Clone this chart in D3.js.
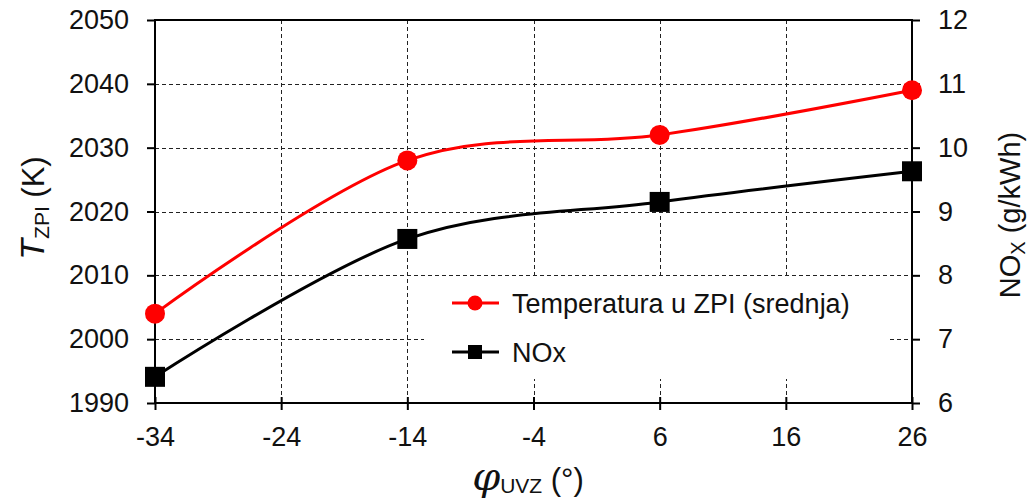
<!DOCTYPE html>
<html><head><meta charset="utf-8">
<script src="https://cdn.jsdelivr.net/npm/d3@7"></script>
<style>body{margin:0;background:#fff}svg{display:block}text{font-family:"Liberation Sans",Arial,sans-serif;fill:#111}</style>
</head><body>
<svg id="c" width="1032" height="502"></svg>
<script>
const phi = [-34, -14, 6, 26];
const tempVals = [2004, 2028, 2032, 2039];
const noxVals = [6.41, 8.57, 9.15, 9.63];
const xTicks = [-34, -24, -14, -4, 6, 16, 26];
const yLeftTicks = [1990, 2000, 2010, 2020, 2030, 2040, 2050];
const yRightTicks = [6, 7, 8, 9, 10, 11, 12];
const seriesNames = ["Temperatura u ZPI (srednja)", "NOx"];

const L = 155, R = 912, T = 20, B = 403;
const svg = d3.select("#c");
const x = d3.scaleLinear().domain([-34, 26]).range([L, R]);
const yL = d3.scaleLinear().domain([1990, 2050]).range([B, T]);
const yR = d3.scaleLinear().domain([6, 12]).range([B, T]);
const fmt = d => String(d);

// grid
const grid = svg.append("g").attr("stroke", "#222").attr("stroke-width", 1).attr("stroke-dasharray", "4,3");
yLeftTicks.slice(1, -1).forEach(v => grid.append("line").attr("x1", L).attr("x2", R).attr("y1", Math.round(yL(v)) + 0.5).attr("y2", Math.round(yL(v)) + 0.5));
xTicks.slice(1, -1).forEach(v => grid.append("line").attr("y1", T).attr("y2", B).attr("x1", Math.round(x(v)) + 0.5).attr("x2", Math.round(x(v)) + 0.5));

// legend background box
svg.append("rect").attr("x", 424).attr("y", 279).attr("width", 463).attr("height", 100).attr("fill", "#fff");

// frame top
svg.append("line").attr("x1", L).attr("x2", R).attr("y1", T).attr("y2", T).attr("stroke", "#000").attr("stroke-width", 2);

// axes
const fs = 27;
const ax = svg.append("g").attr("transform", `translate(0,${B})`)
  .call(d3.axisBottom(x).tickValues(xTicks).tickSize(7).tickPadding(17).tickFormat(fmt));
ax.selectAll(".tick line").attr("y1", -6).attr("y2", 7);
const al = svg.append("g").attr("transform", `translate(${L},0)`)
  .call(d3.axisLeft(yL).tickValues(yLeftTicks).tickSize(8).tickPadding(18).tickFormat(fmt));
const ar = svg.append("g").attr("transform", `translate(${R},0)`)
  .call(d3.axisRight(yR).tickValues(yRightTicks).tickSize(8).tickPadding(18).tickFormat(fmt));
[ax, al, ar].forEach(g => {
  g.select(".domain").remove();
  g.selectAll(".tick line").attr("stroke", "#000").attr("stroke-width", 2);
  g.selectAll("text").attr("font-size", fs).attr("font-family", "Liberation Sans, Arial, sans-serif").attr("fill", "#111");
});
svg.append("line").attr("x1", L - 1).attr("x2", R + 1).attr("y1", B).attr("y2", B).attr("stroke", "#000").attr("stroke-width", 2);
svg.append("line").attr("x1", L).attr("x2", L).attr("y1", T - 1).attr("y2", B + 1).attr("stroke", "#000").attr("stroke-width", 2);
svg.append("line").attr("x1", R).attr("x2", R).attr("y1", T - 1).attr("y2", B + 1).attr("stroke", "#000").attr("stroke-width", 2);

// series
const curve = d3.curveCardinal.tension(0);
const tData = phi.map((p, i) => [p, tempVals[i]]);
const nData = phi.map((p, i) => [p, noxVals[i]]);
svg.append("path").datum(nData).attr("fill", "none").attr("stroke", "#000").attr("stroke-width", 3)
  .attr("d", d3.line().x(d => x(d[0])).y(d => yR(d[1])).curve(curve));
svg.append("path").datum(tData).attr("fill", "none").attr("stroke", "#ff0000").attr("stroke-width", 3)
  .attr("d", d3.line().x(d => x(d[0])).y(d => yL(d[1])).curve(curve));
svg.selectAll(".sq").data(nData).enter().append("rect")
  .attr("x", d => x(d[0]) - 10).attr("y", d => yR(d[1]) - 10).attr("width", 20).attr("height", 20).attr("fill", "#000");
svg.selectAll(".ci").data(tData).enter().append("circle")
  .attr("cx", d => x(d[0])).attr("cy", d => yL(d[1])).attr("r", 10).attr("fill", "#ff0000");

// legend
const lg = svg.append("g");
lg.append("line").attr("x1", 452).attr("x2", 499).attr("y1", 303).attr("y2", 303).attr("stroke", "#ff0000").attr("stroke-width", 3);
lg.append("circle").attr("cx", 475).attr("cy", 303).attr("r", 7.5).attr("fill", "#ff0000");
lg.append("text").attr("x", 512).attr("y", 313).attr("font-size", fs).text(seriesNames[0]);
lg.append("line").attr("x1", 452).attr("x2", 499).attr("y1", 352).attr("y2", 352).attr("stroke", "#000").attr("stroke-width", 3);
lg.append("rect").attr("x", 468).attr("y", 345).attr("width", 14).attr("height", 14).attr("fill", "#000");
lg.append("text").attr("x", 512).attr("y", 362).attr("font-size", fs).text(seriesNames[1]);

// axis titles
const lt = svg.append("text").attr("transform", "translate(44,208) rotate(-90)").attr("text-anchor", "middle").attr("font-size", 31);
lt.append("tspan").attr("font-style", "italic").attr("font-size", 34).text("T");
lt.append("tspan").attr("font-size", 21).attr("dy", 5).text("ZPI");
lt.append("tspan").attr("dy", -5).text(" (K)");

const rt = svg.append("text").attr("transform", "translate(1020,215) rotate(-90)").attr("text-anchor", "middle").attr("font-size", 29);
rt.append("tspan").text("NO");
rt.append("tspan").attr("font-size", 20).attr("dy", 5).text("X");
rt.append("tspan").attr("dy", -5).text(" (g/kWh)");

const bt = svg.append("text").attr("x", 528).attr("y", 490).attr("text-anchor", "middle").attr("font-size", 31);
bt.append("tspan").attr("font-style", "italic").attr("font-size", 40).attr("font-family", "DejaVu Serif, serif").text("φ");
bt.append("tspan").attr("font-size", 21).attr("dy", 3).text("UVZ");
bt.append("tspan").attr("dy", -3).text(" (°)");
</script>
</body></html>
